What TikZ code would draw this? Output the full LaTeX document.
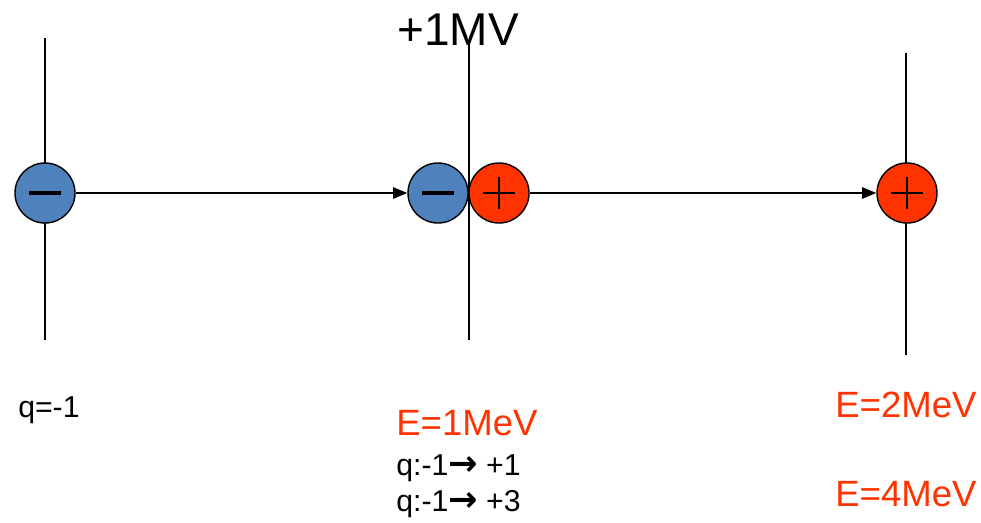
\documentclass[tikz,border=0pt]{standalone}
\usepackage{fontspec}
\setmainfont{Liberation Sans}
\newfontfamily\arrowfont{DejaVu Sans}
\usepackage{tikz}
\usetikzlibrary{arrows.meta,positioning,calc}

\definecolor{eblue}{HTML}{4F81BD}
\definecolor{pred}{HTML}{FF3300}

\tikzset{
  charge/.style={circle, draw, line width=1pt, minimum size=1.5cm, inner sep=0pt},
  negion/.style={charge, fill=eblue,
    path picture={\draw[line width=2.2pt]
      ([xshift=-0.39cm]path picture bounding box.center) --
      ([xshift=0.39cm]path picture bounding box.center);}},
  posion/.style={charge, fill=pred,
    path picture={\draw[line width=1.6pt]
      ([xshift=-0.39cm]path picture bounding box.center) --
      ([xshift=0.39cm]path picture bounding box.center)
      ([yshift=-0.39cm]path picture bounding box.center) --
      ([yshift=0.39cm]path picture bounding box.center);}},
  wall/.style={line width=1pt},
  flight/.style={line width=1pt, -{Triangle[length=10pt,width=8pt]}},
  big/.style={font=\fontsize{32.7}{36}\selectfont},
  energy/.style={text=pred, font=\fontsize{26}{30}\selectfont},
  small/.style={font=\fontsize{21.5}{25}\selectfont}
}
\newcommand{\becomes}{{\arrowfont\fontsize{25}{25}\selectfont\bfseries →}}

\begin{document}
\begin{tikzpicture}[x=0.025cm, y=-0.025cm]
\useasboundingbox (0,0) rectangle (981,522);
% the three planes
\coordinate (t1) at (45,38);
\coordinate (b1) at (45,340);
\coordinate (t2) at (469,42);
\coordinate (b2) at (469,340);
\coordinate (t3) at (906,53);
\coordinate (b3) at (906,355);
\draw[wall] (t1) -- (b1);
\draw[wall] (t2) -- (b2);
\draw[wall] (t3) -- (b3);
% ions
\node[negion] (ion1) at (45,193) {};
\node[negion] (ion2) at (438,193) {};
\node[posion] (ion3) at (499,193) {};
\node[posion] (ion4) at (907,193) {};
\draw[flight] (ion1) -- (ion2);
\draw[flight] (ion3) -- (ion4);
% labels
\node[big, anchor=base west, inner sep=0pt] (volt) at (397,45) {+1MV};
\node[small, anchor=base west, inner sep=0pt] (q0) at (18,417) {q=-1};
\node[energy, anchor=base west, inner sep=0pt] (en1) at (396,435) {E=1MeV};
\node[small, anchor=base west, inner sep=0pt] (q1) at (396,475) {q:-1\becomes{} +1};
\node[small, anchor=base west, inner sep=0pt] (q2) at (396,511) {q:-1\becomes{} +3};
\node[energy, anchor=base west, inner sep=0pt] (en2) at (835,417) {E=2MeV};
\node[energy, anchor=base west, inner sep=0pt] (en3) at (835,506) {E=4MeV};
\end{tikzpicture}
\end{document}
